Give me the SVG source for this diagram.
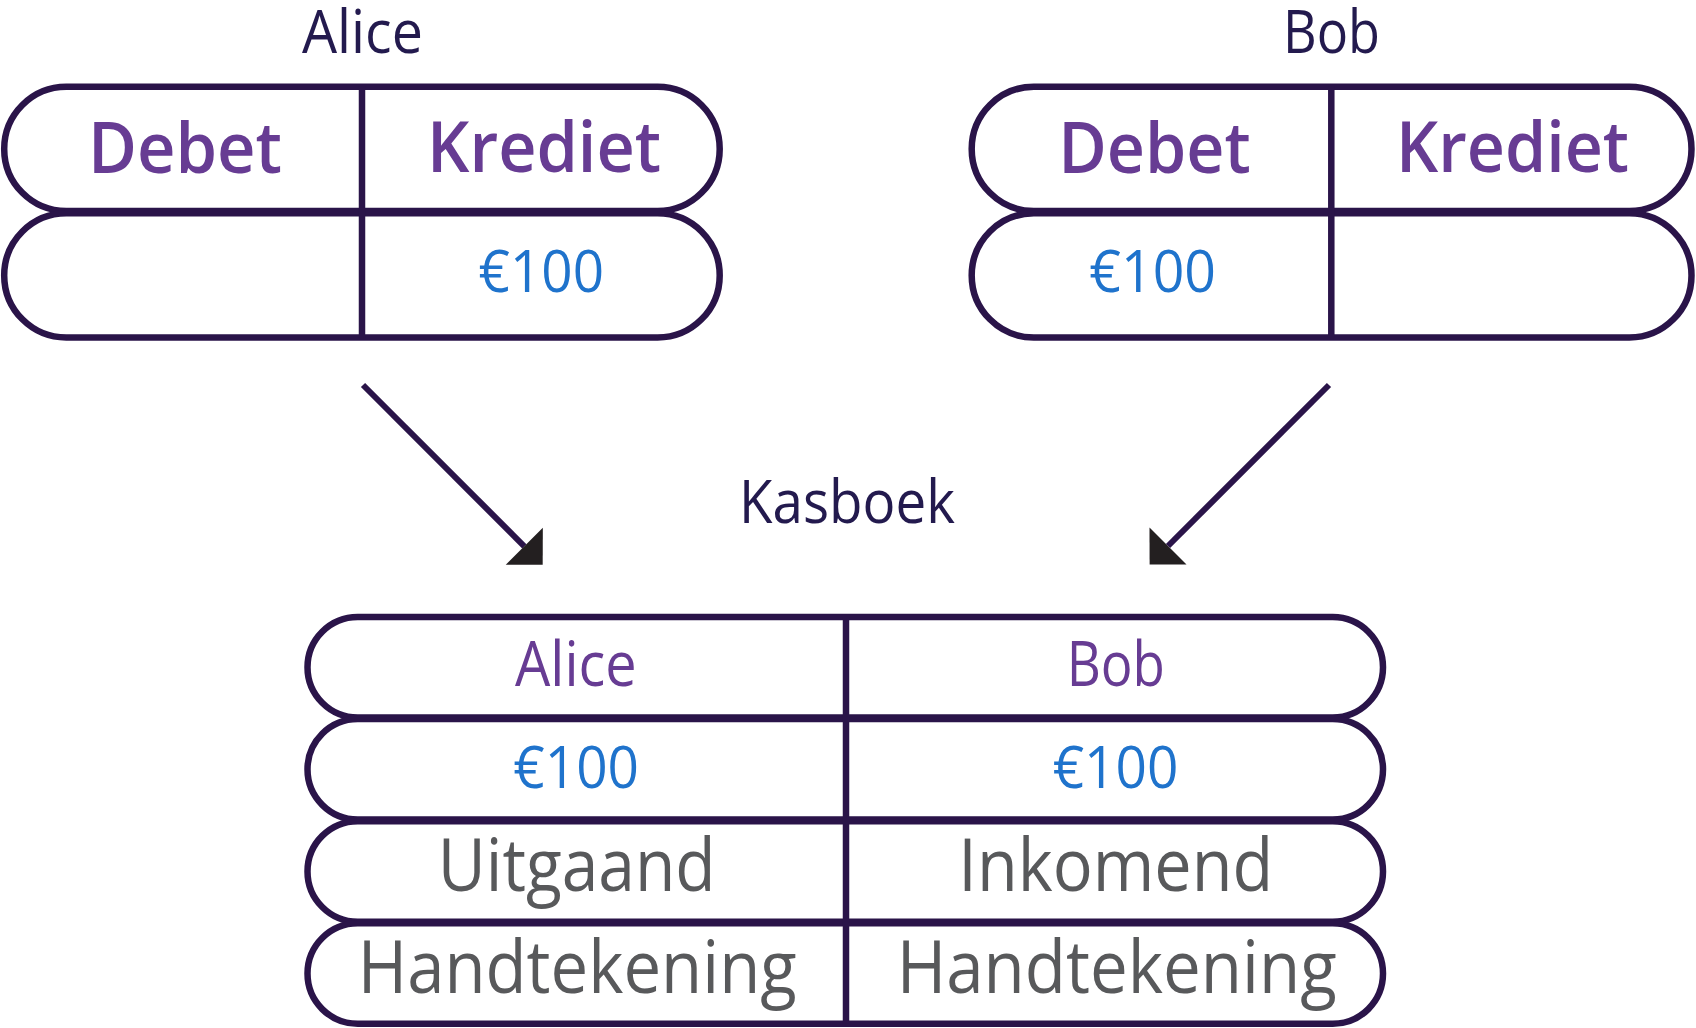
<svg xmlns="http://www.w3.org/2000/svg" width="1696" height="1028" viewBox="0 0 1696 1028">
  <style>
    .row { fill: #ffffff; stroke: #2a1449; stroke-width: 6.5; }
    .sep { stroke: #2a1449; stroke-width: 6.5; fill: none; }
    .conn { stroke: #2a1449; stroke-width: 6; fill: none; stroke-linecap: butt; }
    text { font-family: 'Open Sans', 'Noto Sans', 'Liberation Sans', sans-serif; text-anchor: middle; }
    .title { font-size: 60px; fill: #231a4e; }
    .hdr { font-size: 71px; font-weight: 600; fill: #673c93; }
    .amt { font-size: 58px; fill: #1f73cc; }
    .kname { font-size: 62px; fill: #673c93; }
    .kdir { font-size: 73.5px; fill: #58595b; }
  </style>
  <defs>
    <marker id="head" markerUnits="userSpaceOnUse" markerWidth="60" markerHeight="60" viewBox="0 -30 30 60" refX="0" refY="0" orient="auto">
      <path d="M0,-26.2 L26,0 L0,26.2 Z" fill="#231f20"/>
    </marker>
  </defs>
  <rect width="1696" height="1028" fill="#ffffff"/>

  <g id="alice">
    <text class="title" x="362.4" y="53.3" textLength="121" lengthAdjust="spacingAndGlyphs">Alice</text>
    <rect class="row" x="4.2" y="86.8" width="715.5" height="124.2" rx="62.1" ry="62.1"/>
    <rect class="row" x="4.2" y="213.3" width="715.5" height="124.2" rx="62.1" ry="62.1"/>
    <line class="sep" x1="362" y1="86.8" x2="362" y2="337.5"/>
    <text class="hdr" x="185" y="172.7" textLength="194" lengthAdjust="spacingAndGlyphs">Debet</text>
    <text class="hdr" x="544" y="172.4" textLength="234" lengthAdjust="spacingAndGlyphs">Krediet</text>
    <text class="amt" x="541.3" y="291.7" textLength="125.4" lengthAdjust="spacingAndGlyphs">€100</text>
  </g>

  <g id="bob">
    <text class="title" x="1331.5" y="52.7" textLength="97" lengthAdjust="spacingAndGlyphs">Bob</text>
    <rect class="row" x="971.7" y="86.8" width="719.8" height="124.2" rx="62.1" ry="62.1"/>
    <rect class="row" x="971.7" y="213.3" width="719.8" height="124.2" rx="62.1" ry="62.1"/>
    <line class="sep" x1="1331.3" y1="86.8" x2="1331.3" y2="337.5"/>
    <text class="hdr" x="1154.5" y="172.7" textLength="192.4" lengthAdjust="spacingAndGlyphs">Debet</text>
    <text class="hdr" x="1512.5" y="172.4" textLength="233" lengthAdjust="spacingAndGlyphs">Krediet</text>
    <text class="amt" x="1152.7" y="291.7" textLength="126.7" lengthAdjust="spacingAndGlyphs">€100</text>
  </g>

  <g id="kasboek">
    <text class="title" x="847" y="523.3" textLength="216" lengthAdjust="spacingAndGlyphs">Kasboek</text>
    <rect class="row" x="307.5" y="617" width="1075.5" height="100.5" rx="50.25" ry="50.25"/>
    <rect class="row" x="307.5" y="719.1" width="1075.5" height="100.5" rx="50.25" ry="50.25"/>
    <rect class="row" x="307.5" y="821.2" width="1075.5" height="100.5" rx="50.25" ry="50.25"/>
    <rect class="row" x="307.5" y="923.3" width="1075.5" height="100.5" rx="50.25" ry="50.25"/>
    <line class="sep" x1="846" y1="617" x2="846" y2="1023.8"/>
    <text class="kname" x="575.8" y="686" textLength="121.7" lengthAdjust="spacingAndGlyphs">Alice</text>
    <text class="kname" x="1115.8" y="686" textLength="98.3" lengthAdjust="spacingAndGlyphs">Bob</text>
    <text class="amt" x="576.2" y="788.3" textLength="125.7" lengthAdjust="spacingAndGlyphs">€100</text>
    <text class="amt" x="1115.5" y="788.3" textLength="125.6" lengthAdjust="spacingAndGlyphs">€100</text>
    <text class="kdir" x="576.7" y="890.7" textLength="278" lengthAdjust="spacingAndGlyphs">Uitgaand</text>
    <text class="kdir" x="1115.8" y="890.7" textLength="315" lengthAdjust="spacingAndGlyphs">Inkomend</text>
    <text class="kdir" x="577.2" y="992.7" textLength="439" lengthAdjust="spacingAndGlyphs">Handtekening</text>
    <text class="kdir" x="1116.7" y="992.7" textLength="440" lengthAdjust="spacingAndGlyphs">Handtekening</text>
  </g>

  <g id="connectors">
    <line class="conn" x1="363" y1="385" x2="524.3" y2="546.3" marker-end="url(#head)"/>
    <line class="conn" x1="1329" y1="385" x2="1168" y2="546" marker-end="url(#head)"/>
  </g>
</svg>
